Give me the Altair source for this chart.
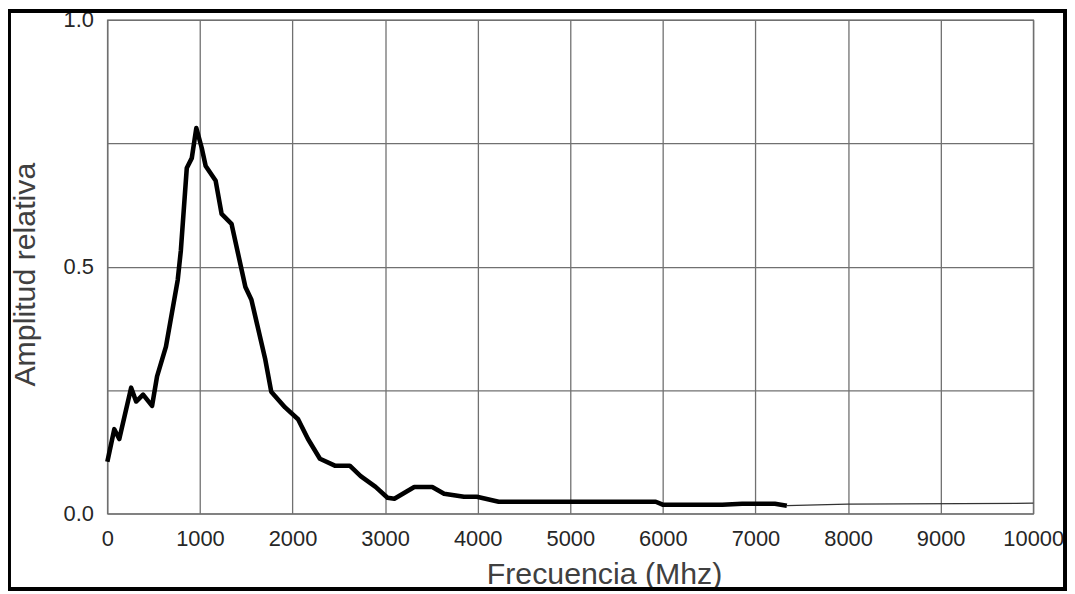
import altair as alt
import pandas as pd

# Measured curve (thick)
freq = [0, 75, 129, 257, 311, 386, 483, 537, 633, 760, 794, 858, 912, 961,
        1019, 1062, 1170, 1234, 1341, 1491, 1556, 1706, 1770, 1920, 2060, 2167,
        2296, 2457, 2618, 2736, 2897, 3026, 3100, 3315, 3509, 3637, 3852, 3991,
        4227, 5923, 5998, 6642, 6856, 7210, 7339]
amp = [0.105, 0.171, 0.151, 0.255, 0.227, 0.241, 0.218, 0.278, 0.338, 0.473,
       0.533, 0.700, 0.720, 0.781, 0.741, 0.704, 0.674, 0.607, 0.587, 0.459,
       0.433, 0.312, 0.247, 0.215, 0.191, 0.151, 0.111, 0.097, 0.097, 0.076,
       0.054, 0.032, 0.030, 0.054, 0.054, 0.040, 0.034, 0.034, 0.024, 0.024,
       0.018, 0.018, 0.020, 0.020, 0.016]

# Thin extension
tail_freq = [7339, 7994, 10000]
tail_amp = [0.016, 0.019, 0.021]

x_ticks = [0, 1000, 2000, 3000, 4000, 5000, 6000, 7000, 8000, 9000, 10000]
y_ticks = [0, 0.25, 0.5, 0.75, 1.0]

main_df = pd.DataFrame({"f": freq, "a": amp})
tail_df = pd.DataFrame({"f": tail_freq, "a": tail_amp})

FONT = "Liberation Sans"
GRID = "#707070"

x_enc = alt.X("f:Q", scale=alt.Scale(domain=[0, 10000], nice=False),
              axis=alt.Axis(values=x_ticks, format="d", title="Frecuencia (Mhz)",
                            grid=True, gridColor=GRID, gridWidth=1.3, gridOpacity=1,
                            ticks=False, domain=False,
                            labelFont=FONT, labelFontSize=22, labelColor="#262626",
                            labelPadding=15, labelFlush=False,
                            titleFont=FONT, titleFontSize=30.5, titleFontWeight="normal",
                            titleColor="#404040", titleX=500, titleY=70,
                            titleAlign="center", titleBaseline="alphabetic"))
y_enc = alt.Y("a:Q", scale=alt.Scale(domain=[0, 1], nice=False),
              axis=alt.Axis(values=y_ticks, title="Amplitud relativa",
                            labelExpr="(datum.value == 0.25 || datum.value == 0.75) ? '' : format(datum.value, '.1f')",
                            grid=True, gridColor=GRID, gridWidth=1.3, gridOpacity=1,
                            ticks=False, domain=False,
                            labelFont=FONT, labelFontSize=22, labelColor="#262626",
                            labelPadding=14,
                            titleFont=FONT, titleFontSize=30.5, titleFontWeight="normal",
                            titleColor="#404040", titleX=-82, titleY=256, titleAngle=-90,
                            titleAlign="center", titleBaseline="middle"))

main_line = alt.Chart(main_df).mark_line(color="black", strokeWidth=4.6,
                                         strokeJoin="round").encode(x=x_enc, y=y_enc)
tail_line = alt.Chart(tail_df).mark_line(color="#333333", strokeWidth=1.3).encode(
    x=alt.X("f:Q"), y=alt.Y("a:Q"))

frame = alt.Chart(alt.Data(values=[{}])).mark_rect(
    fillOpacity=0, stroke="black", strokeWidth=4, clip=False).encode(
    x=alt.value(-99), x2=alt.value(964), y=alt.value(-9), y2=alt.value(573))

chart = alt.layer(main_line, tail_line, frame).properties(
    width=932, height=497,
    autosize=alt.AutoSizeParams(type="none"),
    padding={"left": 100, "top": 10, "right": 34, "bottom": 77},
    background="white",
).configure_view(stroke=GRID, strokeWidth=1.3)

chart.save("out.html", embed_options={"renderer": "svg", "actions": False})
